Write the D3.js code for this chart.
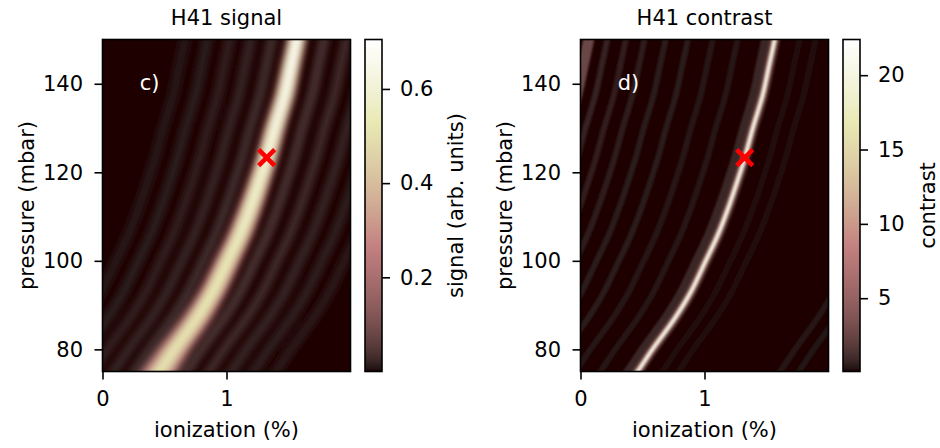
<!DOCTYPE html>
<html>
<head>
<meta charset="utf-8">
<script src="https://cdn.jsdelivr.net/npm/d3@7"></script>
<style>
  body { margin: 0; background: #fff; }
  text { font-family: "DejaVu Sans", sans-serif; }
</style>
</head>
<body>
<div id="chart"></div>
<script>

// ridge of the phase-matching band (pressure in mbar -> ionization in %)
const pressure = [72, 75, 80, 87, 93, 100, 106, 112.6, 118, 123.2, 130, 137.5, 144, 150, 153]
const ridgeIon = [0.38, 0.46, 0.58, 0.76, 0.89, 1.01, 1.11, 1.20, 1.265, 1.324, 1.39, 1.47, 1.52, 1.566, 1.585]

// signal band: half width (ionization units) and peak value along the ridge
const signalHalf = [0.155, 0.15, 0.14, 0.13, 0.12, 0.115, 0.11, 0.105, 0.1, 0.097, 0.093, 0.089, 0.085, 0.082, 0.082]
const signalPeak = [0.5, 0.51, 0.52, 0.53, 0.54, 0.55, 0.57, 0.59, 0.61, 0.63, 0.65, 0.67, 0.69, 0.7, 0.7]
// band profile: part of the half width, part of the peak value
const signalLevelExt = [1.0, 0.8, 0.6, 0.42, 0.25]
const signalLevelFrac = [0.24, 0.48, 0.7, 0.87, 0.98]
// faint side fringes of the signal
const signalFringeOffset = [-0.9, -0.72, -0.54, -0.37, -0.2, 0.22, 0.4, 0.58, 0.76, 0.94]
const signalFringeValue = [0.009, 0.012, 0.016, 0.02, 0.027, 0.033, 0.026, 0.02, 0.015, 0.011]

// contrast: the ridge is a thin line
const contrastLineValue = [1.4, 6, 14, 22]
const contrastFringeOffset = [-1.5, -1.35, -1.2, -1.05, -0.88, -0.7, -0.5, -0.3, -0.06, 0.2, 0.33, 1.15, 1.3]
const contrastFringeValue = [2.6, 0.7, 0.6, 0.55, 0.5, 0.45, 0.4, 0.35, 0.8, 0.22, 0.25, 0.4, 0.3]

// operating point
const markIon = 1.324, markP = 123.3

const ionTicks = [0, 1]
const pTicks = [80, 100, 120, 140]
const signalTicks = [0.2, 0.4, 0.6]
const contrastTicks = [5, 10, 15, 20]

// matplotlib "pink" colormap samples
const pinkPos = [0, 0.01, 0.02, 0.035, 0.05, 0.075, 0.1, 0.15, 0.2, 0.25, 0.3, 0.375, 0.4, 0.45, 0.5, 0.6, 0.7, 0.75, 0.8, 0.9, 1]
const pinkCol = ['#1e0000', '#241515', '#2d1d1d', '#3c2727', '#472f2f', '#573939', '#644242', '#7b5151',
  '#8e5d5d', '#9f6868', '#ae7272', '#c38080', '#c68984', '#cb9a8c', '#d0aa93', '#dac6a1', '#e4deae',
  '#e9e9b4', '#ededc6', '#f6f6e4', '#ffffff']

const W = 940, H = 448
const plotTop = 39.5, pw = 248, ph = 332
const fs = 21

const svg = d3.select('#chart').append('svg').attr('width', W).attr('height', H)
const defs = svg.append('defs')

function cmap(lo, hi) {
  return d3.scaleLinear()
    .domain(pinkPos.map(t => lo + t * (hi - lo)))
    .range(pinkCol)
    .clamp(true)
}

const panels = [
  {id: 's', left: 102.5, title: 'H41 signal', tag: 'c)', cbLabel: 'signal (arb. units)',
    lo: 0, hi: 0.705, ticks: signalTicks, fmt: d3.format('.1f'), blur: 3.1},
  {id: 'k', left: 580.5, title: 'H41 contrast', tag: 'd)', cbLabel: 'contrast',
    lo: 0.07, hi: 22.4, ticks: contrastTicks, fmt: d3.format('d'), blur: 1.0}
]

panels.forEach(pn => {
  const x = d3.scaleLinear().domain([0, 2]).range([0, pw])
  const y = d3.scaleLinear().domain([75, 150]).range([ph, 0])
  const color = cmap(pn.lo, pn.hi)

  const g = svg.append('g').attr('transform', `translate(${pn.left},${plotTop})`)

  defs.append('clipPath').attr('id', 'clip' + pn.id)
    .append('rect').attr('width', pw).attr('height', ph)
  defs.append('filter').attr('id', 'blur' + pn.id)
    .attr('filterUnits', 'userSpaceOnUse')
    .attr('x', -40).attr('y', -40).attr('width', pw + 80).attr('height', ph + 80)
    .append('feGaussianBlur').attr('stdDeviation', pn.blur)

  const clip = g.append('g').attr('clip-path', `url(#clip${pn.id})`)
  clip.append('rect').attr('width', pw).attr('height', ph).attr('fill', color(pn.lo))
  const img = clip.append('g').attr('filter', `url(#blur${pn.id})`)

  const line = off => d3.line()
    .curve(d3.curveCatmullRom)
    .y(p => y(p))
    .x((p, i) => x(ridgeIon[i] + off))

  if (pn.id === 's') {
    img.selectAll('path.fringe')
      .data(signalFringeOffset)
      .join('path')
      .attr('class', 'fringe')
      .attr('d', off => line(off)(pressure))
      .attr('fill', 'none')
      .attr('stroke', (off, i) => color(signalFringeValue[i]))
      .attr('stroke-width', 11)

    const y1 = y(pressure[pressure.length - 1]), y2 = y(pressure[0])
    signalLevelExt.forEach((ext, k) => {
      const grad = defs.append('linearGradient')
        .attr('id', 'sg' + k)
        .attr('gradientUnits', 'userSpaceOnUse')
        .attr('x1', 0).attr('x2', 0).attr('y1', y1).attr('y2', y2)
      grad.selectAll('stop')
        .data(pressure.map((p, i) => i).reverse())
        .join('stop')
        .attr('offset', i => (y(pressure[i]) - y1) / (y2 - y1))
        .attr('stop-color', i => color(signalPeak[i] * signalLevelFrac[k]))

      const area = d3.area()
        .curve(d3.curveCatmullRom)
        .y(p => y(p))
        .x0((p, i) => x(ridgeIon[i] - signalHalf[i] * ext))
        .x1((p, i) => x(ridgeIon[i] + signalHalf[i] * ext))
      img.append('path')
        .attr('d', area(pressure))
        .attr('fill', `url(#sg${k})`)
    })
  } else {
    img.selectAll('path.fringe')
      .data(contrastFringeOffset)
      .join('path')
      .attr('class', 'fringe')
      .attr('d', off => line(off)(pressure))
      .attr('fill', 'none')
      .attr('stroke', (off, i) => color(contrastFringeValue[i]))
      .attr('stroke-width', (off, i) => i === 0 ? 11 : (i === 8 ? 12 : 6))

    const widths = [11, 6, 3.4, 1.9]
    img.selectAll('path.ridge')
      .data(contrastLineValue)
      .join('path')
      .attr('class', 'ridge')
      .attr('d', line(0)(pressure))
      .attr('fill', 'none')
      .attr('stroke', v => color(v))
      .attr('stroke-width', (v, i) => widths[i])
  }

  // operating point marker
  g.append('path')
    .attr('transform', `translate(${x(markIon)},${y(markP)})`)
    .attr('d', 'M-8,-8L8,8M-8,8L8,-8')
    .attr('stroke', '#ff0000')
    .attr('stroke-width', 4.6)
    .attr('fill', 'none')

  // panel tag
  g.append('text')
    .attr('x', x(0.3))
    .attr('y', y(140) + 6)
    .attr('fill', '#fff')
    .attr('font-size', fs)
    .text(pn.tag)

  // frame
  g.append('rect')
    .attr('width', pw).attr('height', ph)
    .attr('fill', 'none').attr('stroke', '#000').attr('stroke-width', 1.6)

  const xa = g.append('g')
    .attr('transform', `translate(0,${ph})`)
    .call(d3.axisBottom(x).tickValues(ionTicks).tickFormat(d3.format('d')).tickSize(8).tickPadding(12))
  const ya = g.append('g')
    .call(d3.axisLeft(y).tickValues(pTicks).tickSize(8).tickPadding(11.5))
  ;[xa, ya].forEach(a => {
    a.select('.domain').remove()
    a.selectAll('line').attr('stroke', '#000').attr('stroke-width', 1.6)
    a.selectAll('text').attr('font-size', fs).attr('fill', '#000').style('font-family', '"DejaVu Sans", sans-serif')
  })

  g.append('text')
    .attr('x', pw / 2).attr('y', 25 - plotTop)
    .attr('text-anchor', 'middle')
    .attr('font-size', fs)
    .text(pn.title)

  g.append('text')
    .attr('x', pw / 2).attr('y', 436.5 - plotTop)
    .attr('text-anchor', 'middle')
    .attr('font-size', fs)
    .text('ionization (%)')

  g.append('text')
    .attr('transform', `translate(${33.5 - 102.5},${ph / 2}) rotate(-90)`)
    .attr('text-anchor', 'middle')
    .attr('font-size', fs)
    .text('pressure (mbar)')

  // colorbar
  const cbx = 262.5, cbw = 17
  const cy = d3.scaleLinear().domain([pn.lo, pn.hi]).range([ph, 0])
  const cg = defs.append('linearGradient')
    .attr('id', 'cb' + pn.id)
    .attr('x1', 0).attr('x2', 0).attr('y1', 1).attr('y2', 0)
  cg.selectAll('stop')
    .data(pinkPos)
    .join('stop')
    .attr('offset', t => t)
    .attr('stop-color', (t, i) => pinkCol[i])

  const cb = g.append('g').attr('transform', `translate(${cbx},0)`)
  cb.append('rect')
    .attr('width', cbw).attr('height', ph)
    .attr('fill', `url(#cb${pn.id})`)
    .attr('stroke', '#000').attr('stroke-width', 1.6)
  const ca = cb.append('g')
    .attr('transform', `translate(${cbw},0)`)
    .call(d3.axisRight(cy).tickValues(pn.ticks).tickFormat(pn.fmt).tickSize(8).tickPadding(10))
  ca.select('.domain').remove()
  ca.selectAll('line').attr('stroke', '#000').attr('stroke-width', 1.6)
  ca.selectAll('text').attr('font-size', fs).attr('fill', '#000').style('font-family', '"DejaVu Sans", sans-serif')

  const labW = d3.max(ca.selectAll('text').nodes(), n => n.getComputedTextLength())
  cb.append('text')
    .attr('transform', `translate(${cbw + 8 + 10 + labW + 30},${ph / 2}) rotate(-90)`)
    .attr('text-anchor', 'middle')
    .attr('font-size', fs)
    .text(pn.cbLabel)
})

</script>
</body>
</html>
